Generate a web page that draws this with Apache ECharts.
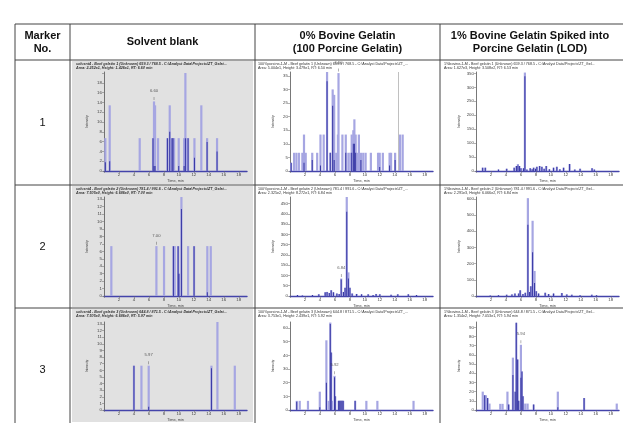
<!DOCTYPE html>
<html><head><meta charset="utf-8">
<script src="https://cdn.jsdelivr.net/npm/echarts@6/dist/echarts.min.js"></script>
<style>html,body{margin:0;padding:0;background:#fff}#c{width:623px;height:423px}</style>
</head><body><div id="c"></div>
<script>
// ---------- table text ----------
const headerTitles = ['Marker\nNo.', 'Solvent blank', '0% Bovine Gelatin\n(100 Porcine Gelatin)', '1% Bovine Gelatin Spiked into\nPorcine Gelatin (LOD)'];
const markerNumbers = ['1', '2', '3'];

// ---------- panel captions ----------
const panelCaptions = [
  ['solvent4 - Beef gelatin 1 (Unknown) 659.3 / 768.5 - C:\\Analyst Data\\Projects\\ZT_Gelat...', 'Area: 2.252e1, Height: 1.426e1, RT: 6.60 min'],
  ['100%porcine-1-M - Beef gelatin 1 (Unknown) 659.3 / 768.5 - C:\\Analyst Data\\Projects\\ZT_...', 'Area: 5.004e1, Height: 3.479e1, RT: 6.50 min'],
  ['1%bovine-1-M - Beef gelatin 1 (Unknown) 659.3 / 768.5 - C:\\Analyst Data\\Projects\\ZT_Gel...', 'Area: 1.627e3, Height: 3.508e2, RT: 6.53 min'],
  ['solvent4 - Beef gelatin 2 (Unknown) 781.4 / 991.6 - C:\\Analyst Data\\Projects\\ZT_Gelat...', 'Area: 7.505e0, Height: 6.686e0, RT: 7.00 min'],
  ['100%porcine-1-M - Beef gelatin 2 (Unknown) 781.4 / 991.6 - C:\\Analyst Data\\Projects\\ZT_...', 'Area: 2.325e2, Height: 8.272e1, RT: 6.84 min'],
  ['1%bovine-1-M - Beef gelatin 2 (Unknown) 781.4 / 991.6 - C:\\Analyst Data\\Projects\\ZT_Gel...', 'Area: 2.291e3, Height: 6.066e2, RT: 6.84 min'],
  ['solvent4 - Beef gelatin 3 (Unknown) 644.8 / 871.5 - C:\\Analyst Data\\Projects\\ZT_Gelat...', 'Area: 7.505e0, Height: 6.686e0, RT: 5.97 min'],
  ['100%porcine-1-M - Beef gelatin 3 (Unknown) 644.8 / 871.5 - C:\\Analyst Data\\Projects\\ZT_...', 'Area: 3.753e1, Height: 2.439e1, RT: 5.92 min'],
  ['1%bovine-1-M - Beef gelatin 3 (Unknown) 644.8 / 871.5 - C:\\Analyst Data\\Projects\\ZT_Gel...', 'Area: 1.354e2, Height: 7.053e1, RT: 5.94 min']
];

// ---------- chromatogram peaks: [time (min), outer intensity, inner intensity] ----------
const blankM1 = [[0.18,6.7,1.8],[0.76,13.4,2],[4.77,6.7,0],[6.55,6.7,6.7],[6.68,14.2,1],[6.82,13.4,1],[7.22,6.7,0],[8.47,6.7,6.7],[8.78,13.4,8],[9.09,6.7,6.7],[9.22,6.7,6.7],[9.36,6.7,0],[9.98,6.7,1],[10.7,6.7,1],[10.87,20,6.7],[11.05,6.7,0],[11.23,6.7,6.7],[12.08,6.7,2.7],[13.0,13.4,0],[13.77,6.7,5.9],[15.1,6.7,4]];
const porcineM1 = [[0.15,3,3],[0.55,6.7,0],[0.86,6.7,0],[1.2,6.7,0],[1.65,6.7,0],[1.87,13.4,3],[2.1,6.7,0],[2.97,6.7,4],[3.63,6.7,0],[4.07,13.4,2],[4.5,13.4,0],[4.95,36.5,33],[5.38,6.7,6.7],[5.7,30,24],[5.9,28,4],[6.18,6.7,0],[6.4,13.4,0],[6.48,36,0],[7.0,13.4,0],[7.45,13.4,6.7],[7.8,6.7,0],[8.07,6.7,0],[8.24,13.4,6.7],[8.46,15,10],[8.6,19,10],[8.77,13.4,6.7],[9.0,6.7,0],[9.2,13.4,0],[9.47,6.7,4],[9.78,6.7,0],[10.1,6.7,0],[10.8,6.7,0],[11.76,6.7,0],[11.98,6.7,1.5],[12.4,6.7,0],[13.3,6.7,2],[13.5,6.7,0],[14.04,6.7,4],[14.7,13.4,0],[15.05,13.4,0]];
const lodM1 = [[0.89,12,12],[1.24,12,12],[3.0,5,5],[4.1,8,8],[5.1,12,12],[5.4,18,18],[5.6,25,20],[5.8,18,18],[6.0,10,10],[6.35,10,10],[6.53,353,340],[6.8,5,5],[7.24,10,10],[7.5,6,6],[7.7,12,12],[7.95,8,8],[8.13,15,15],[8.5,18,18],[8.8,15,15],[9.1,8,8],[9.38,18,18],[9.8,6,6],[10.36,12,12],[10.8,15,15],[11.2,6,6],[11.7,12,12],[12.5,25,25],[13.2,5,5],[13.9,8,8],[15.5,10,10],[15.8,5,5]];
const blankM2 = [[0.98,6.7,0],[7.0,6.7,0],[8.02,6.7,0],[9.27,6.7,6.7],[9.45,6.7,0],[9.9,6.7,6.7],[10.0,3,3],[10.34,13.4,11.7],[11.23,6.7,0],[12.03,6.7,6.7],[13.8,6.7,0.5],[14.26,6.7,0]];
const porcineM2 = [[1.0,5,5],[1.65,3,3],[3.0,5,5],[3.85,8,8],[4.7,18,18],[4.95,20,20],[5.25,15,15],[5.5,28,28],[5.8,18,18],[6.26,12,12],[6.57,10,10],[6.84,85,80],[7.14,20,20],[7.36,40,40],[7.58,485,410],[7.8,115,85],[8.0,40,40],[8.3,12,12],[8.9,10,10],[9.56,8,8],[10.44,8,8],[11.1,5,5],[11.5,10,10],[12.0,8,8],[13.5,6,6],[14.4,8,8],[15.8,8,8],[16.9,5,5]];
const lodM2 = [[1.9,3,3],[3.0,5,5],[4.1,8,8],[4.8,10,10],[5.2,15,15],[5.7,15,15],[5.9,35,35],[6.27,12,12],[6.58,20,20],[6.93,605,440],[7.16,25,25],[7.33,60,60],[7.56,465,270],[7.82,155,80],[8.04,30,30],[8.36,15,15],[9.24,20,20],[9.7,12,12],[10.36,15,15],[11.47,18,18],[12.13,10,10],[12.8,8,8],[13.9,5,5],[15.47,8,8],[16.1,5,5]];
const blankM3 = [[4.0,6.7,6.7],[5.0,6.7,0],[5.97,6.7,0.5],[14.35,6.7,6.3],[15.15,13.4,0],[17.47,6.7,0]];
const porcineM3 = [[0.9,6.7,6],[1.3,6.7,0],[2.4,6.7,0],[3.98,13.4,2],[4.86,51,20],[5.16,6.7,0],[5.38,64,63],[5.5,42,42],[5.6,6.7,0],[5.95,25,24],[6.04,10,10],[6.5,6.7,6.7],[6.65,6.7,6.7],[6.8,6.7,6.7],[6.95,6.7,6.7],[7.1,6.7,6.7],[8.7,6.7,6.7],[10.2,6.7,0],[11.67,6.7,0],[16.5,6.7,0]];
const lodM3 = [[0.9,20,0],[1.16,16,16],[1.33,16,0],[1.55,13,13],[1.8,7,0],[3.24,6.7,0],[3.55,6.7,0],[4.2,20,0],[4.36,6,6],[4.93,57,38],[5.24,20,20],[5.38,95,95],[5.56,55,55],[5.7,10,10],[6.0,71,35],[6.13,42,42],[6.27,15,15],[6.58,7,0],[6.89,7,0],[7.7,6,6],[10.93,20,3],[14.44,13,13],[18.8,7,0]];

// retention-time annotations: [time, intensity, text]
const rtLabels = [[6.68,14.2,'6.60'],[6.48,36,'6.50'],[6.53,353,'6.53'],[7.0,6.7,'7.00'],[6.84,85,'6.84'],[6.93,605,'6.84'],[5.97,6.7,'5.97'],[5.95,25,'5.92'],[6.0,71,'5.94']];
// y-axis ranges
const yMaxes = [20.2, 36.4, 355, 13.3, 482, 612, 13.3, 64.4, 95.8];
const yIntervals = [2, 5, 50, 1, 50, 100, 1, 10, 10];
const yLabelCaps = [18, 35, 350, 13, 450, 600, 13, 60, 90];
const timeMax = 19.1;

const panelPeaks = [blankM1, porcineM1, lodM1, blankM2, porcineM2, lodM2, blankM3, porcineM3, lodM3];

// ---------- layout ----------
const W = 623;
const colLeft = [104, 290, 476];
const gridW = 143;
const rowTop = [72, 197, 322];
const gridH = 99;
const cellTop = [60, 185, 308];
const captionX = [76, 258, 444];
const FONT = "'Liberation Sans', Arial, sans-serif";

const grids = [], xAxes = [], yAxes = [], series = [], graphics = [];

// gray backgrounds for solvent blank column
cellTop.forEach((t, r) => {
  const b = r < 2 ? cellTop[r + 1] : 423;
  graphics.push({type: 'rect', z: -20, shape: {x: 72, y: t + 1, width: 181, height: b - t - 2}, style: {fill: '#e1e1e1'}});
});

panelPeaks.forEach((peaks, i) => {
  const r = Math.floor(i / 3), c = i % 3;
  grids.push({left: colLeft[c], top: rowTop[r], width: gridW, height: gridH});
  const xBase = {gridIndex: i, type: 'value', min: 0, max: timeMax, interval: 2};
  xAxes.push(Object.assign({}, xBase, {
    axisLine: {lineStyle: {color: '#4444aa', width: 1.4}},
    axisTick: {show: true, length: 2, lineStyle: {color: '#666', width: 0.5}},
    axisLabel: {fontSize: 4.4, color: '#444', margin: 2, fontFamily: FONT, showMaxLabel: false, formatter: v => v === 0 ? '' : String(v)},
    splitLine: {show: false},
    name: 'Time, min', nameLocation: 'middle', nameGap: 8,
    nameTextStyle: {fontSize: 3.8, color: '#444', fontFamily: FONT}
  }));
  xAxes.push(Object.assign({}, xBase, {show: false}));
  const cap = yLabelCaps[i];
  yAxes.push({
    gridIndex: i, type: 'value', min: 0, max: yMaxes[i], interval: yIntervals[i],
    axisLine: {show: true, lineStyle: {color: '#555', width: 0.8}},
    axisTick: {show: true, length: 2, lineStyle: {color: '#666', width: 0.5}},
    axisLabel: {fontSize: 4.4, color: '#444', margin: 2, fontFamily: FONT, showMaxLabel: false, formatter: v => v > cap ? '' : String(v)},
    splitLine: {show: false},
    name: 'Intensity', nameLocation: 'middle', nameGap: 15, nameRotate: 90,
    nameTextStyle: {fontSize: 3.4, color: '#444', fontFamily: FONT}
  });
  const light = {
    type: 'bar', xAxisIndex: 2 * i, yAxisIndex: i, barWidth: 2.2, silent: true, animation: false,
    itemStyle: {color: '#a6a6e2'},
    data: peaks.map(p => [p[0], p[1]])
  };
  if (i === 1) {
    light.markLine = {silent: true, symbol: 'none', label: {show: false}, lineStyle: {color: '#b0b0b0', width: 0.8, type: 'solid'}, data: [{xAxis: 14.4}]};
  }
  series.push(light);
  series.push({
    type: 'bar', xAxisIndex: 2 * i + 1, yAxisIndex: i, barWidth: 1, silent: true, animation: false,
    itemStyle: {color: '#3535a3'},
    data: peaks.filter(p => p[2] > 0).map(p => [p[0], p[2]])
  });
  const lab = rtLabels[i];
  const side = (i === 2 || i === 5);
  series.push({
    type: 'scatter', xAxisIndex: 2 * i, yAxisIndex: i, silent: true, animation: false,
    symbol: side ? 'none' : 'rect', symbolSize: [0.5, 3], symbolOffset: [0, -3],
    itemStyle: {color: '#444'},
    label: {show: true, formatter: lab[2], position: side ? 'right' : 'top', distance: side ? 2 : 4,
      offset: side ? [0, 3] : [0, 0], fontSize: 4.2, color: '#333', fontFamily: FONT},
    data: [[lab[0], lab[1]]]
  });
  // captions
  const cx = captionX[c], cy = cellTop[r];
  graphics.push({type: 'text', z: 10, x: cx, y: cy + 1.5, style: {text: panelCaptions[i][0], fill: '#333',
    font: (c === 0 ? 'italic bold ' : '') + '3.7px ' + FONT, verticalAlign: 'top'}});
  graphics.push({type: 'text', z: 10, x: cx, y: cy + 5.8, style: {text: panelCaptions[i][1], fill: '#333',
    font: (c === 0 ? 'italic bold ' : '') + '3.7px ' + FONT, verticalAlign: 'top'}});
});

// ---------- table lines ----------
const lineColor = '#444';
[24, 60, 185, 308].forEach(y => graphics.push({type: 'line', z: 20, shape: {x1: 15, y1: y, x2: W, y2: y}, style: {stroke: lineColor, lineWidth: 1}}));
[15, 70, 255, 440].forEach(x => graphics.push({type: 'line', z: 20, shape: {x1: x, y1: 24, x2: x, y2: 423}, style: {stroke: lineColor, lineWidth: 1}}));

// header texts
const headerCenters = [42.5, 162.5, 347.5, 530];
headerTitles.forEach((t, k) => graphics.push({type: 'text', z: 20, x: headerCenters[k], y: 42,
  style: {text: t, fill: '#111', font: 'bold 11px ' + FONT, align: 'center', verticalAlign: 'middle', lineHeight: 13}}));
// marker numbers
const rowCenters = [123, 247, 370];
markerNumbers.forEach((t, k) => graphics.push({type: 'text', z: 20, x: 42.5, y: rowCenters[k],
  style: {text: t, fill: '#111', font: '11px ' + FONT, align: 'center', verticalAlign: 'middle'}}));

const chart = echarts.init(document.getElementById('c'), null, {renderer: 'canvas'});
chart.setOption({
  animation: false,
  backgroundColor: '#fff',
  grid: grids, xAxis: xAxes, yAxis: yAxes, series: series, graphic: graphics
});
</script></body></html>
